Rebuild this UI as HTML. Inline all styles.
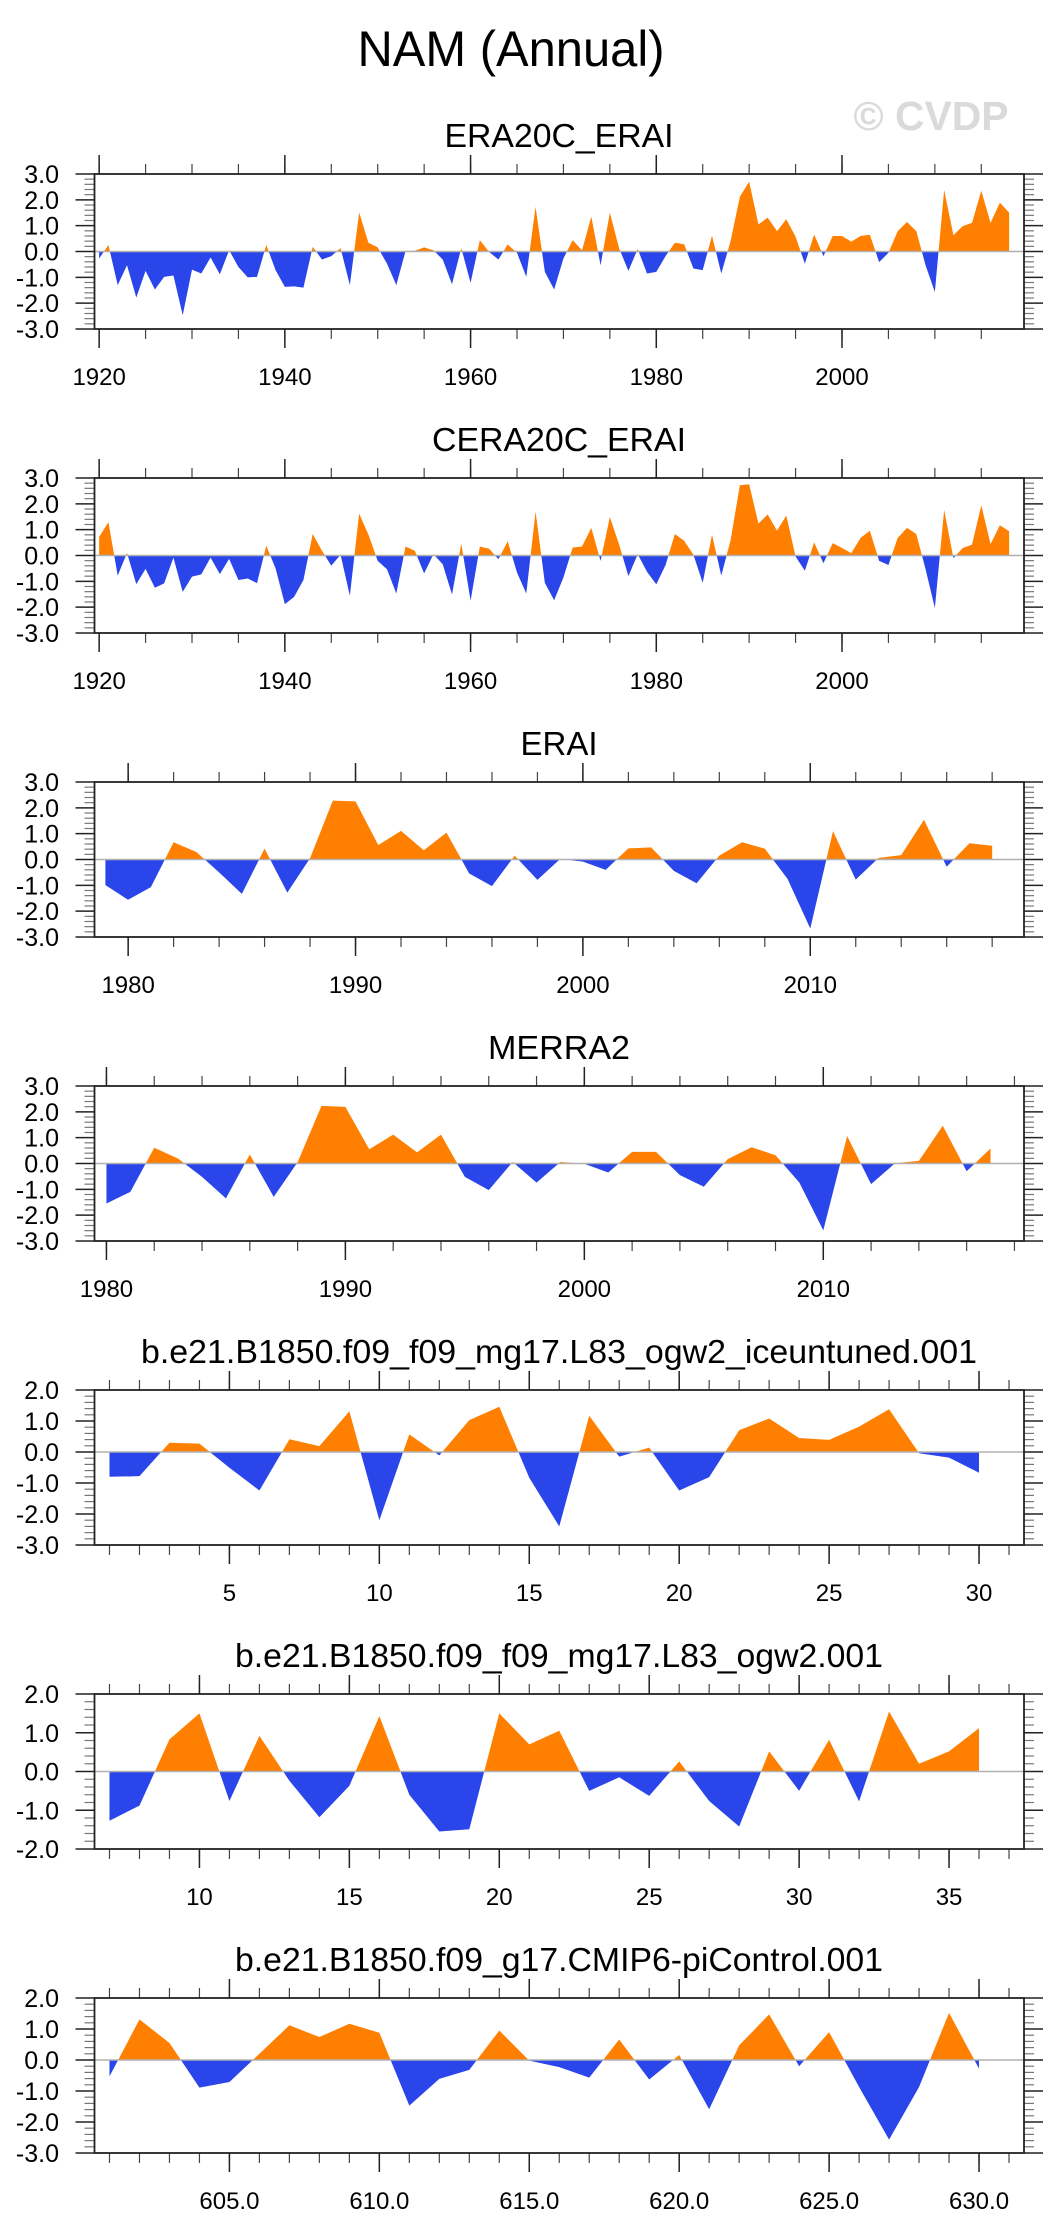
<!DOCTYPE html>
<html><head><meta charset="utf-8"><title>NAM (Annual)</title>
<style>
html,body{margin:0;padding:0;background:#fff;}
svg{display:block;font-family:"Liberation Sans",Arial,sans-serif;}
</style></head>
<body>
<svg id="chart" width="1058" height="2235" viewBox="0 0 1058 2235" xmlns="http://www.w3.org/2000/svg">
<rect width="1058" height="2235" fill="#fff"/>
<text x="511" y="66" font-size="50" text-anchor="middle" textLength="307" lengthAdjust="spacingAndGlyphs">NAM (Annual)</text>
<text x="931" y="130" font-size="41" font-weight="bold" fill="#dadada" text-anchor="middle" textLength="155" lengthAdjust="spacingAndGlyphs">© CVDP</text>
</svg>
<script>
// ---- data ----
const panelTitles = ["ERA20C_ERAI","CERA20C_ERAI","ERAI","MERRA2",
 "b.e21.B1850.f09_f09_mg17.L83_ogw2_iceuntuned.001",
 "b.e21.B1850.f09_f09_mg17.L83_ogw2.001",
 "b.e21.B1850.f09_g17.CMIP6-piControl.001"];
const era20cStart = 1920;
const era20cValues = [-0.27,0.25,-1.3,-0.53,-1.78,-0.75,-1.47,-0.98,-0.93,-2.47,
 -0.70,-0.85,-0.23,-0.88,0.05,-0.6,-1.0,-0.98,0.25,-0.72,
 -1.37,-1.35,-1.4,0.18,-0.31,-0.18,0.13,-1.3,1.51,0.34,
 0.16,-0.47,-1.3,0.02,0.03,0.16,0.05,-0.31,-1.27,0.13,
 -1.21,0.44,-0.02,-0.31,0.27,-0.05,-0.98,1.73,-0.79,-1.47,
 -0.27,0.44,0.05,1.35,-0.53,1.5,0.12,-0.75,0.1,-0.85,
 -0.79,-0.18,0.34,0.28,-0.66,-0.72,0.61,-0.85,0.4,2.12,
 2.7,1.05,1.31,0.79,1.25,0.57,-0.47,0.66,-0.18,0.6,
 0.6,0.38,0.6,0.65,-0.41,-0.05,0.79,1.14,0.79,-0.53,
 -1.57,2.38,0.63,0.98,1.11,2.35,1.11,1.89,1.5];
const cera20cStart = 1920;
const cera20cValues = [0.72,1.29,-0.78,0.1,-1.11,-0.52,-1.25,-1.08,-0.08,-1.41,
 -0.82,-0.73,-0.08,-0.72,-0.13,-0.95,-0.89,-1.07,0.38,-0.5,
 -1.88,-1.6,-0.95,0.83,0.18,-0.39,0.03,-1.56,1.62,0.81,
 -0.21,-0.53,-1.47,0.35,0.18,-0.69,0.05,-0.34,-1.51,0.46,
 -1.75,0.35,0.26,-0.14,0.55,-0.66,-1.47,1.7,-1.06,-1.73,
 -0.85,0.31,0.35,1.07,-0.21,1.49,0.42,-0.8,0.05,-0.63,
 -1.12,-0.37,0.83,0.57,0.03,-1.06,0.81,-0.78,0.59,2.72,
 2.76,1.24,1.59,0.96,1.55,-0.04,-0.59,0.51,-0.3,0.48,
 0.29,0.09,0.68,0.96,-0.21,-0.37,0.68,1.07,0.83,-0.53,
 -2.03,1.76,-0.1,0.29,0.42,1.94,0.44,1.17,0.94];
const eraiStart = 1979;
const eraiValues = [-0.99,-1.56,-1.07,0.67,0.29,-0.5,-1.33,0.42,-1.28,0.05,
 2.28,2.25,0.56,1.11,0.36,1.04,-0.54,-1.03,0.15,-0.79,
 0.02,-0.08,-0.4,0.43,0.47,-0.44,-0.92,0.15,0.67,0.42,
 -0.75,-2.67,1.1,-0.78,0.06,0.17,1.54,-0.28,0.63,0.53];
const merra2Start = 1980;
const merra2Values = [-1.55,-1.1,0.61,0.19,-0.52,-1.35,0.35,-1.29,0.05,2.23,
 2.19,0.55,1.12,0.43,1.12,-0.52,-1.03,0.06,-0.74,0.06,
 -0.01,-0.35,0.45,0.45,-0.45,-0.9,0.17,0.63,0.32,-0.74,
 -2.59,1.06,-0.8,0.01,0.1,1.46,-0.3,0.58];
const iceuntunedStart = 1;
const iceuntunedValues = [-0.8,-0.78,0.3,0.27,-0.51,-1.24,0.41,0.19,1.31,-2.2,
 0.57,-0.11,1.03,1.46,-0.83,-2.4,1.17,-0.15,0.14,-1.24,
 -0.81,0.7,1.08,0.45,0.39,0.82,1.38,-0.04,-0.18,-0.67];
const ogw2Start = 7;
const ogw2Values = [-1.27,-0.88,0.83,1.5,-0.76,0.92,-0.24,-1.18,-0.37,1.43,
 -0.6,-1.55,-1.49,1.5,0.7,1.05,-0.5,-0.15,-0.63,0.26,
 -0.76,-1.42,0.52,-0.5,0.82,-0.77,1.55,0.2,0.52,1.12];
const picontrolStart = 601;
const picontrolValues = [-0.53,1.31,0.55,-0.89,-0.71,0.2,1.12,0.74,1.17,0.88,
 -1.47,-0.61,-0.32,0.95,-0.02,-0.23,-0.57,0.66,-0.63,0.16,
 -1.59,0.47,1.47,-0.2,0.9,-0.87,-2.57,-0.87,1.52,-0.28];
const yearTickLabels = ["1920","1940","1960","1980","2000"];
const decadeTickLabels = ["1980","1990","2000","2010"];
const memberTickLabels5 = ["5","10","15","20","25","30"];
const memberTickLabels6 = ["10","15","20","25","30","35"];
const picontrolTickLabels = ["605.0","610.0","615.0","620.0","625.0","630.0"];

// ---- layout ----
const NS = "http://www.w3.org/2000/svg";
const svg = document.getElementById("chart");
const LEFT = 94.5, RIGHT = 1024, H = 155;
const panels = [
 {start:era20cStart, vals:era20cValues, xmin:1919.5, xmax:2019.6, ymin:-3, ymax:3, labels:yearTickLabels, minorFrom:1920, minorTo:2015, minorStep:5, tl:229},
 {start:cera20cStart, vals:cera20cValues, xmin:1919.5, xmax:2019.6, ymin:-3, ymax:3, labels:yearTickLabels, minorFrom:1920, minorTo:2015, minorStep:5, tl:254},
 {start:eraiStart, vals:eraiValues, xmin:1978.52, xmax:2019.4, ymin:-3, ymax:3, labels:decadeTickLabels, minorFrom:1980, minorTo:2018, minorStep:2, tl:77},
 {start:merra2Start, vals:merra2Values, xmin:1979.5, xmax:2018.4, ymin:-3, ymax:3, labels:decadeTickLabels, minorFrom:1980, minorTo:2018, minorStep:2, tl:142},
 {start:iceuntunedStart, vals:iceuntunedValues, xmin:0.5, xmax:31.5, ymin:-3, ymax:2, labels:memberTickLabels5, minorFrom:1, minorTo:31, minorStep:1, tl:836},
 {start:ogw2Start, vals:ogw2Values, xmin:6.5, xmax:37.5, ymin:-2, ymax:2, labels:memberTickLabels6, minorFrom:7, minorTo:37, minorStep:1, tl:648},
 {start:picontrolStart, vals:picontrolValues, xmin:600.5, xmax:631.5, ymin:-3, ymax:2, labels:picontrolTickLabels, minorFrom:601, minorTo:631, minorStep:1, tl:648}
];

function mk(tag, attrs, parent){
  const e = document.createElementNS(NS, tag);
  for (const k in attrs) e.setAttribute(k, attrs[k]);
  (parent||svg).appendChild(e);
  return e;
}
function line(x1,y1,x2,y2,stroke,w,parent){
  return mk("line",{x1:x1,y1:y1,x2:x2,y2:y2,stroke:stroke,"stroke-width":w},parent);
}

panels.forEach(function(p, i){
  const top = 174 + 304*i, bot = top + H;
  const xs = function(v){ return LEFT + (v - p.xmin)/(p.xmax - p.xmin)*(RIGHT-LEFT); };
  const ys = function(v){ return top + (p.ymax - v)/(p.ymax - p.ymin)*H; };
  const g = mk("g",{});
  
  

  const t = mk("text",{x:559, y:top-27, "font-size":33, "text-anchor":"middle", textLength:p.tl, lengthAdjust:"spacingAndGlyphs"}, g);
  t.textContent = panelTitles[i];
  
  

  const y0 = ys(0);
  let d = "M" + xs(p.start).toFixed(2) + "," + y0.toFixed(2);
  p.vals.forEach(function(v, k){ d += " L" + xs(p.start+k).toFixed(2) + "," + ys(v).toFixed(2); });
  d += " L" + xs(p.start + p.vals.length - 1).toFixed(2) + "," + y0.toFixed(2) + " Z";
  const cpA = mk("clipPath",{id:"ca"+i}, g); mk("rect",{x:LEFT, y:top, width:RIGHT-LEFT, height:y0-top}, cpA);
  const cpB = mk("clipPath",{id:"cb"+i}, g); mk("rect",{x:LEFT, y:y0, width:RIGHT-LEFT, height:bot-y0}, cpB);
  const pos = mk("path",{d:d, fill:"#ff8000", "clip-path":"url(#ca"+i+")"}, g);
  
  
  const neg = mk("path",{d:d, fill:"#2a45ea", "clip-path":"url(#cb"+i+")"}, g);
  
  
  const zl = line(LEFT, y0, RIGHT, y0, "#b0b0b0", 1.5, g);
  
  

  for (let v = p.ymin; v <= p.ymax + 1e-6; v += 0.2) {
    const y = ys(v);
    const isMaj = Math.abs(v - Math.round(v)) < 1e-6;
    if (isMaj) {
      line(LEFT-19, y, LEFT, y, "#222", 1.5, g);
      line(RIGHT, y, RIGHT+19, y, "#222", 1.5, g);
      const lab = mk("text",{x:59, y:y+9, "font-size":25, "text-anchor":"end"}, g);
      lab.textContent = Math.round(v).toFixed(1);
      
      
    } else {
      line(LEFT-10, y, LEFT, y, "#777", 1.2, g);
      line(RIGHT, y, RIGHT+10, y, "#777", 1.2, g);
    }
  }
  for (let v = p.minorFrom; v <= p.minorTo + 1e-6; v += p.minorStep) {
    const x = xs(v);
    line(x, top-10, x, top, "#444", 1.2, g);
    line(x, bot, x, bot+10, "#444", 1.2, g);
  }
  p.labels.forEach(function(s){
    const v = parseFloat(s), x = xs(v);
    line(x, top-19, x, top, "#222", 1.5, g);
    line(x, bot, x, bot+19, "#222", 1.5, g);
    const lab = mk("text",{x:x, y:bot+56, "font-size":24, "text-anchor":"middle"}, g);
    lab.textContent = s;
    
    
  });
  const frame = mk("rect",{x:LEFT, y:top, width:RIGHT-LEFT, height:H, fill:"none", stroke:"#222", "stroke-width":1.8}, g);
  
  
});
</script>
</body></html>
